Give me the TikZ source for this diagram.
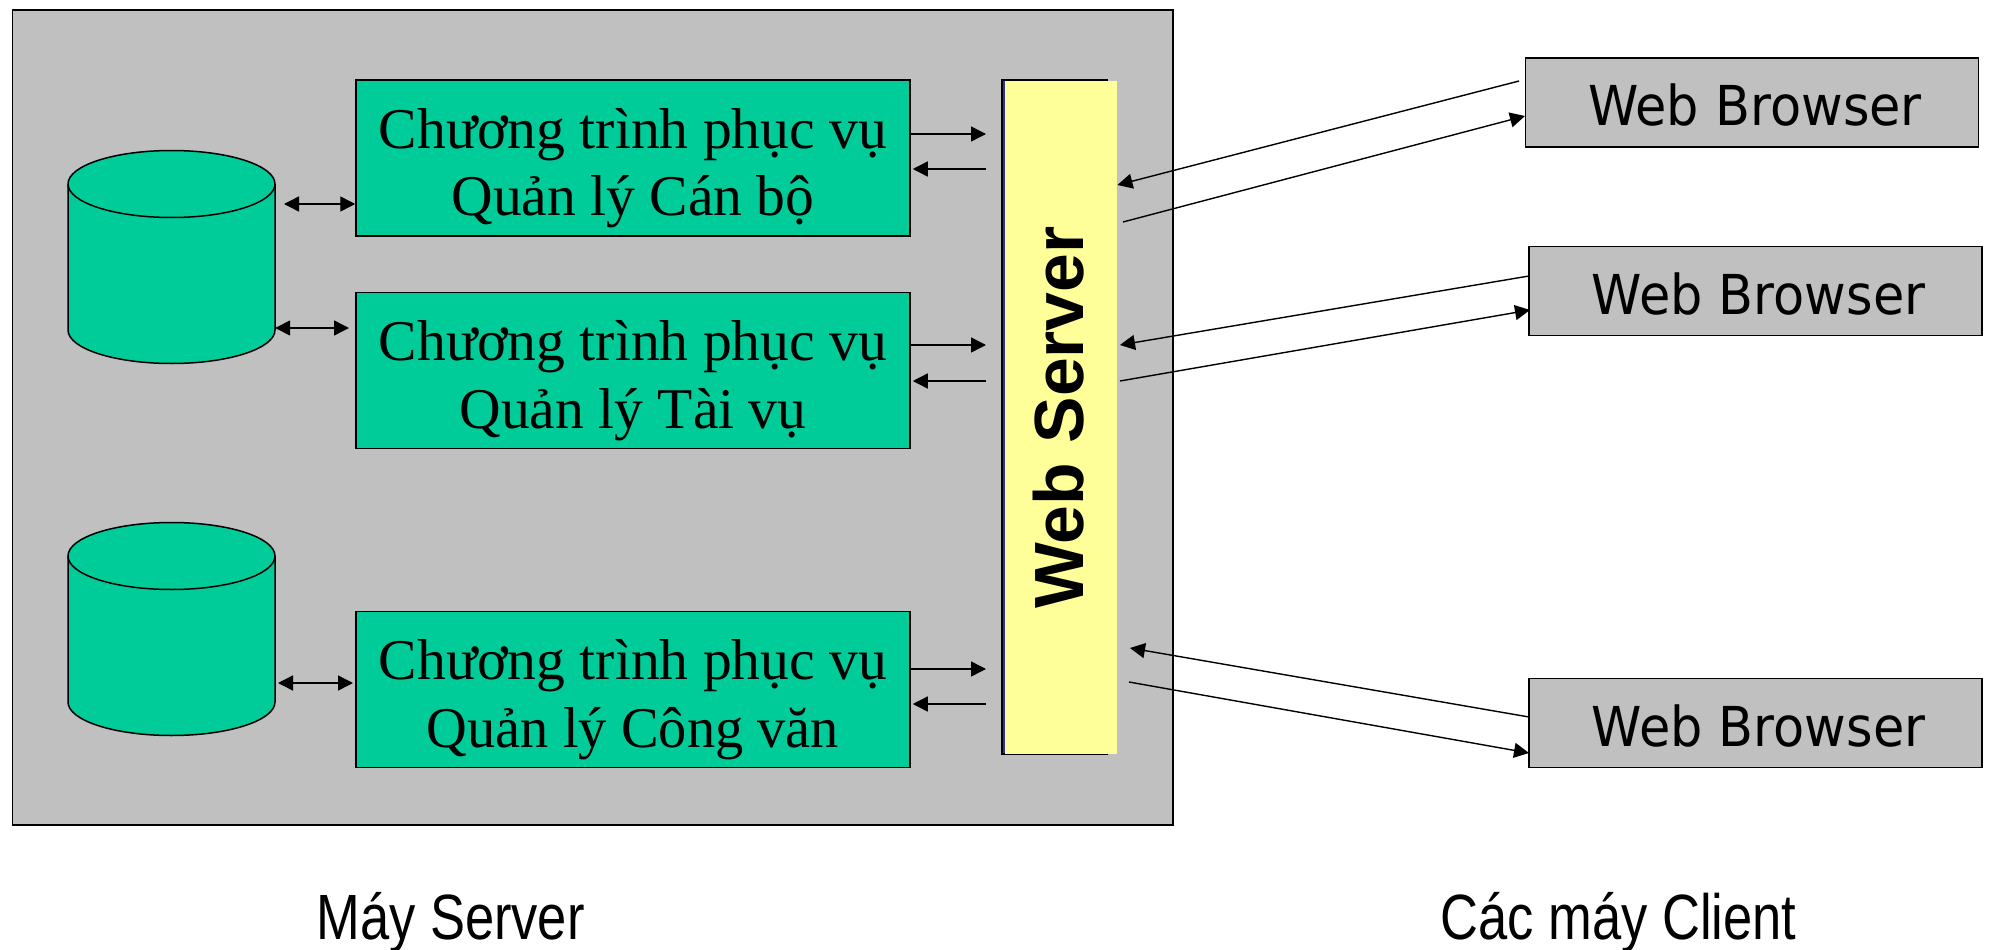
\documentclass[tikz,border=0pt]{standalone}
\usepackage{fontspec}
\setmainfont{Liberation Serif}
\newfontfamily\arialf{Liberation Sans}
\newfontfamily\dejaf{DejaVu Sans}
\usetikzlibrary{arrows.meta}
\definecolor{grn}{HTML}{00CC99}
\definecolor{gry}{HTML}{C0C0C0}
\definecolor{yel}{HTML}{FFFF99}
\definecolor{nvy}{HTML}{333399}
\tikzset{
  box/.style={rectangle,draw=black,line width=1.5pt,inner sep=0pt},
  prog/.style={box,fill=grn,minimum width=554pt,minimum height=156pt,align=center,font=\fontsize{57.6}{67.5}\selectfont},
  brow/.style={box,fill=gry,minimum width=453pt,minimum height=89pt},
  db/.style={rectangle,inner sep=0pt,minimum width=207pt,minimum height=212pt},
  dbline/.style={draw=black,line width=1.5pt,fill=grn,line join=round},
  arr/.style={line width=1.4pt,-{Triangle[length=15pt,width=15pt]}},
  darr/.style={line width=1.4pt,{Triangle[length=15pt,width=15pt]}-{Triangle[length=15pt,width=15pt]}},
  lab/.style={anchor=base,inner sep=0pt,font=\fontsize{64}{70}\selectfont\arialf},
}
\newcommand{\browtext}{\hspace*{6pt}\raisebox{-2.5pt}[\height][\depth]{\fontsize{55}{60}\selectfont\dejaf\scalebox{0.926}[1]{Web Browser}}}
\newcommand{\progtext}[2]{\raisebox{-10pt}[\height][\depth]{#1}\\\raisebox{-10pt}[\height][\depth]{#2}}
\newcommand{\dbshape}[1]{%
  \begin{scope}[shift={(#1.center)}]
    \draw[dbline] (-103.5,73) -- (-103.5,-73)
      arc[start angle=180,end angle=360,x radius=103.5,y radius=33.5]
      -- (103.5,73)
      arc[start angle=0,end angle=180,x radius=103.5,y radius=33.5] -- cycle;
    \draw[draw=black,line width=1.5pt] (-103.5,73)
      arc[start angle=180,end angle=360,x radius=103.5,y radius=33.5];
  \end{scope}}
\begin{document}
\begin{tikzpicture}[x=1pt,y=1pt]
\useasboundingbox (0,0) rectangle (1990,-950);
% server machine
\node[box,fill=gry,minimum width=1160.5pt,minimum height=815pt] (server) at (592.75,-417.5) {};
% databases
\node[db] (db1) at (171.5,-257) {};
\node[db] (db2) at (171.5,-629) {};
\dbshape{db1}
\dbshape{db2}
% programs
\node[prog] (p1) at (633,-158) {\progtext{Chương trình phục vụ}{Quản lý Cán bộ}};
\node[prog] (p2) at (633,-370.5) {\progtext{Chương trình phục vụ}{Quản lý Tài vụ}};
\node[prog] (p3) at (633,-689.5) {\progtext{Chương trình phục vụ}{\scalebox{0.98}[1]{Quản lý Công văn}}};
% web server: outlined shape with an offset yellow face
\node[box,fill=nvy,minimum width=105pt,minimum height=674pt] (wsback) at (1054.5,-417) {};
\node[rectangle,fill=yel,inner sep=0pt,minimum width=112.5pt,minimum height=673pt,text=black,font=\fontsize{69.7}{72}\selectfont\bfseries\arialf] (ws) at (1060.75,-417.5) {\hspace*{-5pt}\rotatebox{90}{Web Server}};
% browsers
\node[brow] (b1) at (1752,-102.5) {\browtext};
\node[brow] (b2) at (1755.5,-291) {\browtext};
\node[brow] (b3) at (1755.5,-723) {\browtext};
% captions
\node[lab] (capS) at (450.5,-939) {\scalebox{0.82}[1]{Máy Server}};
\node[lab] (capC) at (1618.5,-939) {\scalebox{0.82}[1]{Các máy Client}};
% free ends
\coordinate (p1a) at (986,-134);
\coordinate (p1b) at (986,-169);
\coordinate (p2a) at (986,-345);
\coordinate (p2b) at (986,-381);
\coordinate (p3a) at (986,-669);
\coordinate (p3b) at (986,-704);
\coordinate (d1a) at (284,-204);
\coordinate (d1b) at (349,-328);
\coordinate (d2a) at (278,-683);
\coordinate (d2b) at (353,-683);
\coordinate (c1s) at (1519,-81);
\coordinate (c1e) at (1117.5,-185);
\coordinate (c2s) at (1123,-222);
\coordinate (c2e) at (1525,-116);
\coordinate (c3s) at (1529,-276);
\coordinate (c3e) at (1120,-345);
\coordinate (c4s) at (1120,-381);
\coordinate (c4e) at (1530,-310);
\coordinate (c5s) at (1529,-717);
\coordinate (c5e) at (1130,-648);
\coordinate (c6s) at (1129,-682);
\coordinate (c6e) at (1529,-753);
% connectors
\draw[arr] (p1.east |- p1a) -- (p1a);
\draw[arr] (p1b) -- ([xshift=2pt]p1.east |- p1b);
\draw[arr] (p2.east |- p2a) -- (p2a);
\draw[arr] (p2b) -- ([xshift=2pt]p2.east |- p2b);
\draw[arr] (p3.east |- p3a) -- (p3a);
\draw[arr] (p3b) -- ([xshift=2pt]p3.east |- p3b);
\draw[darr] (d1a) -- (p1.west |- d1a);
\draw[darr] (db1.east |- d1b) -- (d1b);
\draw[darr] (d2a) -- (d2b);
\draw[arr] (c1s) -- (c1e);
\draw[arr] (c2s) -- (c2e);
\draw[arr] (c3s) -- (c3e);
\draw[arr] (c4s) -- (c4e);
\draw[arr] (c5s) -- (c5e);
\draw[arr] (c6s) -- (c6e);
\end{tikzpicture}
\end{document}
